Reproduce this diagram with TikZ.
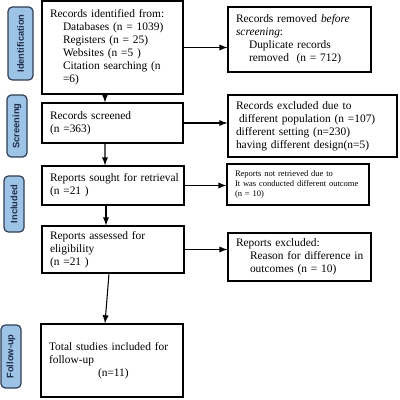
\documentclass[tikz,border=0pt]{standalone}
\usepackage{fontspec}
\setmainfont{Liberation Serif}
\newfontfamily\stagefont{Liberation Sans}
\usetikzlibrary{arrows,positioning}
\definecolor{stagefill}{HTML}{9DC3E6}
\definecolor{stageline}{HTML}{2F3E55}
\definecolor{stagetext}{HTML}{1F2D4A}
\newcommand{\boxlines}[1]{\noindent\begin{tabular}{@{}l@{}}#1\end{tabular}}

\begin{document}
\begin{tikzpicture}[>=latex,
  box/.style={draw,line width=0.7pt,align=left,inner xsep=0.16cm,inner ysep=0pt,
    font=\fontsize{6.5}{7.4}\selectfont},
  stage/.style={draw=stageline,fill=stagefill,rounded corners=2.5pt,line width=0.7pt,
    rotate=90,inner sep=0pt,text=stagetext,font=\stagefont\bfseries\fontsize{5.3}{6}\selectfont}]
\useasboundingbox (0,0) rectangle (8,-8);
% stages
\node[stage,minimum width=1.46cm,minimum height=0.50cm] (sident) at (0.41,-0.87) {Identification};
\node[stage,minimum width=1.24cm,minimum height=0.40cm] (sscreen) at (0.34,-2.52) {Screening};
\node[stage,minimum width=1.12cm,minimum height=0.40cm] (sincl) at (0.28,-4.08) {Included};
\node[stage,minimum width=1.26cm,minimum height=0.40cm] (sfollow) at (0.22,-7.13) {Follow-up};
% main column
\node[box,text width=2.50cm,minimum height=1.86cm] (ident) at (2.25,-0.95)
  {\boxlines{Records identified from:\\
   \hspace*{0.26cm}Databases (n = 1039)\\
   \hspace*{0.26cm}Registers (n = 25)\\
   \hspace*{0.26cm}Websites (n =5 )\\
   \hspace*{0.26cm}Citation searching (n\\
   \hspace*{0.26cm}=6)}};
\node[box,text width=2.50cm,minimum height=0.80cm] (screened) at (2.25,-2.46)
  {\boxlines{Records screened\\(n =363)}};
\node[box,text width=2.52cm,minimum height=0.78cm] (sought) at (2.26,-3.71)
  {\boxlines{Reports sought for retrieval\\(n =21 )}};
\node[box,text width=2.52cm,minimum height=0.94cm] (assessed) at (2.26,-4.99)
  {\boxlines{Reports assessed for\\eligibility\\(n =21 )}};
\node[box,text width=2.52cm,minimum height=1.46cm] (total) at (2.24,-7.21)
  {\boxlines{Total studies included for\\follow-up\\\hspace*{0.98cm}(n=11)}};
% side column
\node[box,text width=2.54cm,minimum height=1.30cm] (removed) at (5.99,-0.79)
  {\boxlines{Records removed \emph{before}\\\emph{screening}:\\
   \hspace*{0.26cm}Duplicate records\\
   \hspace*{0.26cm}removed\ \ (n = 712)}};
\node[box,text width=3.06cm,minimum height=1.24cm] (excluded) at (6.25,-2.52)
  {\boxlines{Records excluded due to\\
   \hspace*{0.06cm}different population (n =107)\\
   different setting (n=230)\\
   having different design(n=5)}};
\node[box,text width=2.52cm,minimum height=0.82cm,
  font=\fontsize{4.85}{5.9}\selectfont] (notret) at (5.96,-3.69)
  {\boxlines{Reports not retrieved due to\\
   It was conducted different outcome\\
   (n = 10)}};
\node[box,text width=2.54cm,minimum height=0.96cm] (repexcl) at (5.99,-5.14)
  {\boxlines{Reports excluded:\\
   \hspace*{0.28cm}Reason for difference in\\
   \hspace*{0.28cm}outcomes (n = 10)}};
% arrows
\draw[->,line width=0.6pt] ([xshift=-0.15cm]ident.south) -- ([xshift=-0.15cm]screened.north);
\draw[->,line width=0.6pt] ([xshift=-0.15cm]screened.south) -- ([xshift=-0.16cm]sought.north);
\draw[->,line width=0.6pt] ([xshift=-0.14cm]sought.south) -- ([xshift=-0.14cm]assessed.north);
\draw[->,line width=0.6pt] ([xshift=-0.08cm]assessed.south) -- ([xshift=-0.14cm]total.north);
\draw[->,line width=0.6pt] (ident.east) -- (ident.east -| removed.west);
\draw[->,line width=0.6pt] (screened.east) -- (screened.east -| excluded.west);
\draw[->,line width=0.6pt] (sought.east) -- (sought.east -| notret.west);
\draw[->,line width=0.6pt] (assessed.east) -- (assessed.east -| repexcl.west);
\end{tikzpicture}
\end{document}
